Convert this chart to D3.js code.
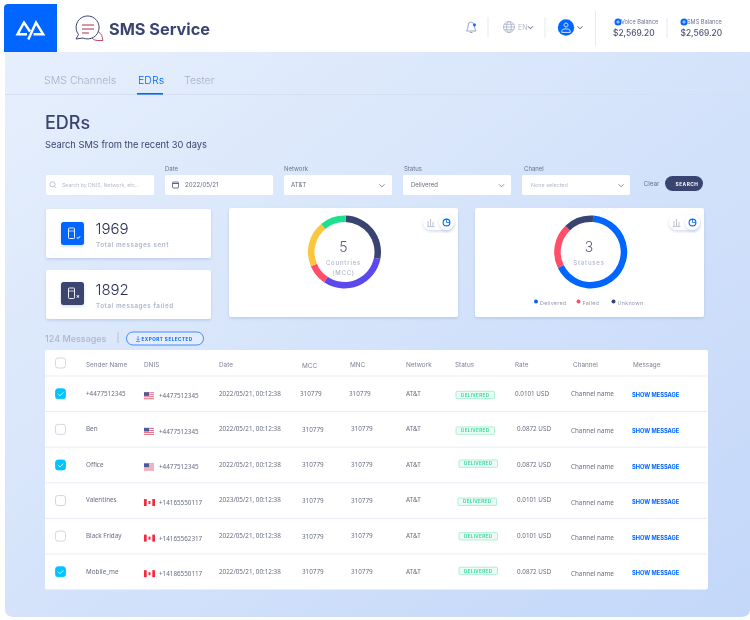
<!DOCTYPE html>
<html>
<head>
<meta charset="utf-8">
<title>EDRs</title>
<script src="https://cdn.jsdelivr.net/npm/d3@7"></script>
<style>
html, body { margin: 0; padding: 0; background: #fff; }
svg { display: block; filter: blur(0.3px); }
text { font-family: Inter, "Noto Sans", sans-serif; }
.cell { font-family: "Noto Sans", sans-serif; font-size: 6.3px; fill: #666d80; }
.head { font-size: 6.4px; fill: #7d8396; }
</style>
</head>
<body>
<div id="chart"></div>
<script>
// data
var tabs = ["SMS Channels", "EDRs", "Tester"];
var columns = ["Sender Name", "DNIS", "Date", "MCC", "MNC", "Network", "Status", "Rate", "Channel", "Message"];
var senders = ["+4477512345", "Ben", "Office", "Valentines", "Black Friday", "Mobile_me"];
var dnis = ["+4477512345", "+4477512345", "+4477512345", "+14165550117", "+14165562317", "+14186550117"];
var flags = ["us", "us", "us", "ca", "ca", "ca"];
var dates = ["2022/05/21, 00:12:38", "2022/05/21, 00:12:38", "2022/05/21, 00:12:38", "2023/05/21, 00:12:38", "2022/05/21, 00:12:38", "2022/05/21, 00:12:38"];
var mcc = ["310779", "310779", "310779", "310779", "310779", "310779"];
var mnc = ["310779", "310779", "310779", "310779", "310779", "310779"];
var networks = ["AT&T", "AT&T", "AT&T", "AT&T", "AT&T", "AT&T"];
var rates = ["0.0101 USD", "0.0872 USD", "0.0872 USD", "0.0101 USD", "0.0101 USD", "0.0872 USD"];
var checked = [true, false, true, false, false, true];

var countryValues = [27.5, 31.4, 9.2, 20.3, 11.6];
var statusNames = ["Delivered", "Failed", "Unknown"];
var statusValues = [66.7, 20, 13.3];

var blue = "#0066ff", navy = "#3a4470", red = "#ff4d6a", yellow = "#fcc63c", green = "#1fe08f", purple = "#5b48ee";
var countryColors = [navy, purple, red, yellow, green];
var statusColors = [blue, red, navy];

var svg = d3.select("#chart").append("svg").attr("width", 750).attr("height", 620);
var defs = svg.append("defs");

var grad = defs.append("linearGradient").attr("id", "bg")
    .attr("x1", 0).attr("y1", 0).attr("x2", 1).attr("y2", 1);
grad.append("stop").attr("offset", "0%").attr("stop-color", "#e6effc");
grad.append("stop").attr("offset", "100%").attr("stop-color", "#c3d7f9");

var shadow = defs.append("filter").attr("id", "sh")
    .attr("x", "-10%").attr("y", "-10%").attr("width", "120%").attr("height", "125%");
shadow.append("feDropShadow").attr("dx", 0).attr("dy", 1.5).attr("stdDeviation", 1.5)
    .attr("flood-color", "#7f9ccf").attr("flood-opacity", 0.35);

function txt(g, x, y, s, size, fill, weight, spacing) {
    return g.append("text").attr("x", x).attr("y", y).text(s)
        .style("font-size", size + "px").style("fill", fill)
        .style("font-weight", weight || 400)
        .style("letter-spacing", (spacing || 0) + "px");
}

function box(g, x, y, w, h, r) {
    return g.append("rect").attr("x", x).attr("y", y).attr("width", w).attr("height", h)
        .attr("rx", r || 2).attr("fill", "#fff");
}

function chevron(g, x, y, col) {
    g.append("path").attr("d", "M" + (x - 2.5) + "," + (y - 1.2) + "l2.5,2.5l2.5,-2.5")
        .attr("fill", "none").attr("stroke", col).attr("stroke-width", 0.9);
}

// panel
svg.append("path").attr("fill", "url(#bg)")
    .attr("d", "M5,52H750V609Q750,617 741,617H14Q5,617 5,609Z");

// header
svg.append("path").attr("fill", blue).attr("d", "M4,8Q4,4 8,4H57V52H4Z");
svg.append("path").attr("fill", "none").attr("stroke", "#fff").attr("stroke-width", 2.4)
    .attr("d", "M27,34.3H17.5L24,22.5L30,31.5M28.3,39.5L36,22.5L43.2,34.3H33.5");

var msg = svg.append("g").attr("fill", "none");
msg.append("path").attr("stroke", "#b3405f").attr("stroke-width", 0.9)
    .attr("d", "M98,31Q103,35 103,40.5H97Q94,40.5 92,38");
msg.append("path").attr("stroke", navy).attr("stroke-width", 1).attr("fill", "#fff")
    .attr("d", "M76,39L78.5,34.5A11.5,11.5 0 1 1 83,38Z");
msg.selectAll("line").data([25, 29, 33]).enter().append("line")
    .attr("x1", 82).attr("x2", function (d, i) { return i == 2 ? 89 : 94; })
    .attr("y1", function (d) { return d; }).attr("y2", function (d) { return d; })
    .attr("stroke", "#b3405f").attr("stroke-width", 1.1);
txt(svg, 109, 35, "SMS Service", 16.3, navy, 700);

[[488, 17, 38], [545, 17, 38], [595.5, 11, 46], [667, 18, 38]].forEach(function (d) {
    svg.append("line").attr("x1", d[0]).attr("x2", d[0]).attr("y1", d[1]).attr("y2", d[2])
        .attr("stroke", "#e4e9f3").attr("stroke-width", 1);
});

// bell
svg.append("path").attr("fill", "none").attr("stroke", "#8c9cc0").attr("stroke-width", 0.9)
    .attr("d", "M466.5,31Q468,29 468,26Q468,22 471,22Q474,22 474.5,26Q474.5,29 476,31ZM470,32.5H472.5");
svg.append("circle").attr("cx", 474.5).attr("cy", 25).attr("r", 1.4).attr("fill", blue);

// globe
var globe = svg.append("g").attr("fill", "none").attr("stroke", "#a3afc9").attr("stroke-width", 0.8);
globe.append("circle").attr("cx", 509).attr("cy", 27).attr("r", 5.5);
globe.append("ellipse").attr("cx", 509).attr("cy", 27).attr("rx", 2.4).attr("ry", 5.5);
globe.append("path").attr("d", "M503.5,27H514.5M504.3,24.3H513.7M504.3,29.7H513.7");
txt(svg, 518, 30, "EN", 7, "#b4bccd");
chevron(svg, 530.5, 27.5, navy);

// avatar
svg.append("circle").attr("cx", 566).attr("cy", 27.5).attr("r", 8.2).attr("fill", blue);
svg.append("path").attr("fill", "none").attr("stroke", "#fff").attr("stroke-width", 0.8)
    .attr("d", "M566,23a2,2 0 1 1 -0.01,0M561.8,32.4V31Q562,29.4 564,29H568Q570,29.4 570.2,31V32.4Z");
chevron(svg, 580, 27.5, navy);

// balances
[[618, 613, "Voice Balance"], [684, 680.5, "SMS Balance"]].forEach(function (d) {
    svg.append("circle").attr("cx", d[0]).attr("cy", 22).attr("r", 3.5).attr("fill", blue);
    svg.append("path").attr("d", "M" + (d[0] - 1.8) + ",22h3.6M" + d[0] + ",20.2v3.6")
        .attr("stroke", "#fff").attr("stroke-width", 0.7);
    txt(svg, d[0] + 3, 24.3, d[2], 5.6, "#6b7390");
    txt(svg, d[1], 35.5, "$2,569.20", 8.4, "#4b5475", 500);
});

// tabs
var tabX = [44, 138, 184];
tabs.forEach(function (t, i) {
    txt(svg, tabX[i], 84, t, 10.6, i == 1 ? blue : "#a8b1c6", 300);
});
svg.append("line").attr("x1", 5).attr("x2", 750).attr("y1", 94.5).attr("y2", 94.5)
    .attr("stroke", "#d3dff3").attr("stroke-width", 1);
svg.append("rect").attr("x", 137).attr("y", 93).attr("width", 26).attr("height", 1.6).attr("fill", blue);

txt(svg, 45, 129, "EDRs", 18, navy, 500);
txt(svg, 45, 148, "Search SMS from the recent 30 days", 9.3, navy, 400);

// filters
var filterX = [46, 165, 284, 403, 522];
filterX.forEach(function (x) { box(svg, x, 175, 108, 20, 1.5); });
var lens = svg.append("g").attr("fill", "none").attr("stroke", "#a3afc9").attr("stroke-width", 0.7);
lens.append("circle").attr("cx", 52.5).attr("cy", 184.3).attr("r", 2.6);
lens.append("line").attr("x1", 54.4).attr("y1", 186.2).attr("x2", 56.2).attr("y2", 188);
txt(svg, 62, 187, "Search by DNIS, Network, etc..", 5.2, "#b4bccd");
txt(svg, 165, 171, "Date", 6, "#6b7390");
svg.append("rect").attr("x", 172.5).attr("y", 182).attr("width", 6).attr("height", 6).attr("rx", 1)
    .attr("fill", "none").attr("stroke", "#4b5475").attr("stroke-width", 0.8);
svg.append("line").attr("x1", 172.5).attr("x2", 178.5).attr("y1", 183.5).attr("y2", 183.5)
    .attr("stroke", "#4b5475").attr("stroke-width", 0.9);
txt(svg, 185, 187.3, "2022/05/21", 6.2, "#666d80");
txt(svg, 284, 171, "Network", 6, "#6b7390");
txt(svg, 291, 187, "AT&T", 6.2, "#666d80");
chevron(svg, 382, 185.5, "#7d8396");
txt(svg, 404, 171, "Status", 6, "#6b7390");
txt(svg, 411, 187, "Delivered", 6, "#666d80");
chevron(svg, 501.5, 185.5, "#7d8396");
txt(svg, 524, 171, "Chanel", 6, "#6b7390");
txt(svg, 531, 187, "None selected", 5.4, "#b4bccd");
chevron(svg, 621, 185.5, "#7d8396");
txt(svg, 643.5, 186, "Clear", 6.4, "#6b7390");
svg.append("rect").attr("x", 665).attr("y", 176).attr("width", 38).attr("height", 15).attr("rx", 7.5).attr("fill", navy);
txt(svg, 675.5, 185.6, "SEARCH", 4.8, "#fff", 700, 0.5);

// stat cards
[[209, 222, "1969", "Total messages sent", blue, "\u2713"], [270, 282, "1892", "Total messages failed", navy, "\u00d7"]].forEach(function (d) {
    box(svg, 46, d[0], 165, 49, 2).attr("filter", "url(#sh)");
    var iy = d[1];
    box(svg, 61, iy, 23, 23, 2.5).attr("fill", d[4]).attr("filter", "url(#sh)");
    svg.append("rect").attr("x", 68.5).attr("y", iy + 6).attr("width", 6).attr("height", 10.5).attr("rx", 0.8)
        .attr("fill", "none").attr("stroke", "#fff").attr("stroke-width", 0.9);
    svg.append("line").attr("x1", 68.5).attr("x2", 74.5).attr("y1", iy + 9).attr("y2", iy + 9)
        .attr("stroke", "#fff").attr("stroke-width", 0.7);
    txt(svg, 76, iy + 17, d[5], 5.5, "#fff", 700);
    txt(svg, 95.5, d[0] + 25, d[2], 15, "#2a2f55", 300);
    txt(svg, 96, d[0] + 38, d[3], 6.3, "#aeb7cb", 600, 0.55);
});

// donut cards
function donutCard(x, w, cx, values, colors, startDeg) {
    box(svg, x, 208, w, 109, 2).attr("filter", "url(#sh)");
    var pie = d3.pie().sort(null)
        .startAngle(startDeg * Math.PI / 180)
        .endAngle((startDeg + 360) * Math.PI / 180);
    var arc = d3.arc().innerRadius(30).outerRadius(36.5);
    svg.append("g").attr("transform", "translate(" + cx + ",252)")
        .selectAll("path").data(pie(values)).enter().append("path")
        .attr("d", arc)
        .attr("fill", function (d, i) { return colors[i]; });

    // bar / pie toggle
    var tx = x + w - 35;
    box(svg, tx, 215, 31, 15, 7.5).attr("filter", "url(#sh)");
    svg.append("path").attr("fill", "none").attr("stroke", "#aab3c8").attr("stroke-width", 0.8)
        .attr("d", "M" + (tx + 5) + ",221v5M" + (tx + 7.5) + ",219v7M" + (tx + 10) + ",222v4M" + (tx + 4) + ",226.6h7.5");
    svg.append("circle").attr("cx", tx + 23.5).attr("cy", 222.5).attr("r", 7.5).attr("fill", "#fff").attr("filter", "url(#sh)");
    svg.append("circle").attr("cx", tx + 23.5).attr("cy", 222.5).attr("r", 3.4)
        .attr("fill", "none").attr("stroke", blue).attr("stroke-width", 1.1);
    svg.append("path").attr("d", "M" + (tx + 23.5) + ",222.5v-3.4M" + (tx + 23.5) + ",222.5h3.4")
        .attr("stroke", blue).attr("stroke-width", 0.8);
}

donutCard(229, 229, 344.5, countryValues, countryColors, 2);
donutCard(475, 229, 590.7, statusValues, statusColors, 4);

function center(t) { return t.attr("text-anchor", "middle"); }
center(txt(svg, 343.5, 252, "5", 14, "#555d7c", 300));
center(txt(svg, 343.5, 264.5, "Countries", 6, "#aeb7cb", 500, 0.8));
center(txt(svg, 343.5, 274.5, "(MCC)", 6, "#aeb7cb", 500, 0.8));
center(txt(svg, 589, 252, "3", 14, "#555d7c", 300));
center(txt(svg, 589, 264.5, "Statuses", 6, "#aeb7cb", 500, 0.8));

var legendX = d3.scaleOrdinal().domain(statusNames).range([536, 578.5, 613.5]);
statusNames.forEach(function (n, i) {
    svg.append("circle").attr("cx", legendX(n)).attr("cy", 301.5).attr("r", 2).attr("fill", statusColors[i]);
    txt(svg, legendX(n) + 4, 305, n, 5.4, "#8f98b0", 400, 0.25);
});

// table caption
txt(svg, 45, 341.5, "124 Messages", 9, "#aeb7cb", 500);
svg.append("line").attr("x1", 118).attr("x2", 118).attr("y1", 332).attr("y2", 343).attr("stroke", "#a8b1c6").attr("stroke-width", 0.7);
svg.append("rect").attr("x", 126.5).attr("y", 332).attr("width", 77).attr("height", 13).attr("rx", 6.5)
    .attr("fill", "#e3edfd").attr("stroke", blue).attr("stroke-width", 0.7);
svg.append("path").attr("fill", "none").attr("stroke", blue).attr("stroke-width", 0.6)
    .attr("d", "M138,336v4M136.5,338.8l1.5,1.5l1.5,-1.5M136,341.5h4");
txt(svg, 141.5, 340.7, "EXPORT SELECTED", 4.6, blue, 700, 0.5);

// table
box(svg, 45, 350, 663, 239.5, 0);
var rowY = d3.scaleBand().domain(d3.range(senders.length)).range([376, 589.5]);
svg.append("g").selectAll("line").data(d3.range(senders.length)).enter().append("line")
    .attr("x1", 45).attr("x2", 707)
    .attr("y1", function (i) { return rowY(i); }).attr("y2", function (i) { return rowY(i); })
    .attr("stroke", "#e8ecf5").attr("stroke-width", 1);

var headX = [86, 144, 219, 302, 350, 406, 455, 515, 573, 633];
var headY = [366.5, 366.5, 366.5, 367.5, 367, 366.5, 366.5, 366.5, 366.5, 366.5];
columns.forEach(function (c, i) {
    svg.append("text").attr("class", "head").attr("x", headX[i]).attr("y", headY[i]).text(c);
});
svg.append("rect").attr("x", 55.5).attr("y", 358).attr("width", 10).attr("height", 10).attr("rx", 2.5)
    .attr("fill", "#fff").attr("stroke", "#c7cedd").attr("stroke-width", 0.8);

function usFlag(g, x, y) {
    g.append("rect").attr("x", x).attr("y", y).attr("width", 10).attr("height", 7).attr("fill", "#fff");
    d3.range(4).forEach(function (k) {
        g.append("rect").attr("x", x).attr("y", y + k * 2).attr("width", 10).attr("height", 1).attr("fill", "#e8667a");
    });
    g.append("rect").attr("x", x).attr("y", y).attr("width", 5).attr("height", 3.6).attr("fill", "#4a5a9c");
}

function caFlag(g, x, y) {
    g.append("rect").attr("x", x).attr("y", y).attr("width", 2.7).attr("height", 7).attr("fill", "#f5283f");
    g.append("rect").attr("x", x + 8.3).attr("y", y).attr("width", 2.7).attr("height", 7).attr("fill", "#f5283f");
    g.append("rect").attr("x", x + 4.5).attr("y", y + 2).attr("width", 2).attr("height", 3).attr("fill", "#f5283f");
}

// small per-row layout nudges seen in the reference
var mccX = [300, 302, 302, 302, 302, 302];
var mncX = [349, 351, 351, 351, 351, 351];
var badgeX = [456, 456, 459, 458, 459, 459];
var rateX = [515, 517, 517, 517, 517, 517];
var badgeDy = [0, 0, -2.5, 0, -1, -2];
var channelDy = [2.5, 4, 4, 4, 4, 4];

senders.forEach(function (s, i) {
    var y = rowY(i) + rowY.bandwidth() / 2;
    var g = svg.append("g");
    var on = checked[i];
    g.append("rect").attr("x", 55.5).attr("y", y - 5).attr("width", 10).attr("height", 10).attr("rx", 2.5)
        .attr("fill", on ? "#00c4ff" : "#fff")
        .attr("stroke", on ? "#00c4ff" : "#c7cedd").attr("stroke-width", 0.8);
    if (on) {
        g.append("path").attr("d", "M" + 58 + "," + y + "l2,2l3.4,-3.4")
            .attr("fill", "none").attr("stroke", "#fff").attr("stroke-width", 0.8);
    }
    function cell(x, dy, t) {
        g.append("text").attr("class", "cell").attr("x", x).attr("y", y + dy).text(t);
    }
    cell(86, 1.8, s);
    if (flags[i] == "us") usFlag(g, 144, y - 1.5); else caFlag(g, 144, y - 1.5);
    cell(159, 4.5, dnis[i]);
    cell(219, 1.8, dates[i]);
    cell(mccX[i], 2.5, mcc[i]);
    cell(mncX[i], 2, mnc[i]);
    cell(406, 1.8, networks[i]);
    cell(rateX[i], 1.8, rates[i]);
    cell(571, channelDy[i], "Channel name");

    var bx = badgeX[i], by = y - 2.5 + badgeDy[i];
    g.append("rect").attr("x", bx).attr("y", by).attr("width", 38.5).attr("height", 7.4).attr("rx", 1)
        .attr("fill", "#eafcf4").attr("stroke", "#7fe8bd").attr("stroke-width", 0.6);
    g.append("text").attr("x", bx + 5).attr("y", by + 5.4).text("DELIVERED")
        .style("font-size", "4.6px").style("font-weight", 600).style("fill", "#2ed89a").style("letter-spacing", "0.35px");

    g.append("text").attr("x", 632).attr("y", y + 3.6).text("SHOW MESSAGE")
        .style("font-size", "5.7px").style("font-weight", 700).style("fill", blue);
});
</script>
</body>
</html>
